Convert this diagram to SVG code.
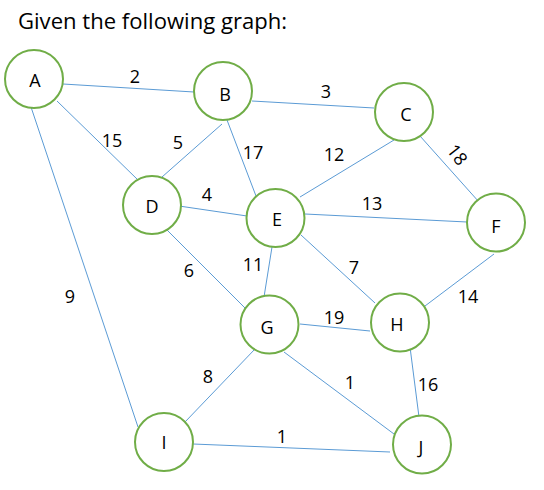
<svg xmlns="http://www.w3.org/2000/svg" width="544" height="490" viewBox="0 0 544 490">
<style>
.edge{stroke:#5B9BD5;stroke-width:1;fill:none}
.node circle{fill:#fff;stroke:#70AD47;stroke-width:2}
text{font-family:"Open Sans","Liberation Sans",sans-serif;fill:#000}
.nl{font-size:18px;text-anchor:middle}
.wl{font-size:18px;text-anchor:middle}
</style>
<rect width="544" height="490" fill="#fff"/>
<text x="18" y="29" font-size="22" textLength="269" lengthAdjust="spacingAndGlyphs">Given the following graph:</text>
<g id="connectors">
<line class="edge" x1="63" y1="84" x2="194" y2="92"/>
<line class="edge" x1="57" y1="101" x2="138" y2="180"/>
<line class="edge" x1="31" y1="107" x2="138" y2="427"/>
<line class="edge" x1="222" y1="124" x2="162" y2="177"/>
<line class="edge" x1="227" y1="120" x2="256" y2="196"/>
<line class="edge" x1="179" y1="206" x2="247" y2="216"/>
<line class="edge" x1="252" y1="101" x2="374" y2="108"/>
<line class="edge" x1="394" y1="140" x2="300" y2="197"/>
<line class="edge" x1="420" y1="136" x2="479" y2="202"/>
<line class="edge" x1="305" y1="214" x2="467" y2="222"/>
<line class="edge" x1="301" y1="235" x2="375" y2="303"/>
<line class="edge" x1="272" y1="247" x2="264" y2="297"/>
<line class="edge" x1="165" y1="228" x2="245" y2="308"/>
<line class="edge" x1="300" y1="324" x2="370" y2="331"/>
<line class="edge" x1="494" y1="254" x2="421" y2="309"/>
<line class="edge" x1="410" y1="347" x2="419" y2="417"/>
<line class="edge" x1="255" y1="349" x2="185" y2="422"/>
<line class="edge" x1="284" y1="352" x2="394" y2="434"/>
<line class="edge" x1="193" y1="444" x2="390" y2="452"/>
</g>
<g id="weights">
<text class="wl" x="135" y="83">2</text>
<text class="wl" x="112" y="147">15</text>
<text class="wl" x="178" y="149">5</text>
<text class="wl" x="253" y="159">17</text>
<text class="wl" x="207" y="201">4</text>
<text class="wl" x="326" y="98">3</text>
<text class="wl" x="334" y="161">12</text>
<text class="wl" x="0" y="0" transform="translate(457 155) rotate(52) translate(0 6)">18</text>
<text class="wl" x="372" y="210">13</text>
<text class="wl" x="253" y="271">11</text>
<text class="wl" x="189" y="277">6</text>
<text class="wl" x="354" y="274">7</text>
<text class="wl" x="334" y="324">19</text>
<text class="wl" x="468" y="303">14</text>
<text class="wl" x="428" y="391">16</text>
<text class="wl" x="208" y="383">8</text>
<text class="wl" x="350" y="389">1</text>
<text class="wl" x="282" y="443">1</text>
<text class="wl" x="70" y="303">9</text>
</g>
<g id="A" class="node"><circle cx="34" cy="79" r="29"/><text class="nl" x="35" y="87">A</text></g>
<g id="B" class="node"><circle cx="223" cy="91" r="29"/><text class="nl" x="225" y="101">B</text></g>
<g id="C" class="node"><circle cx="404" cy="112" r="29"/><text class="nl" x="406" y="121">C</text></g>
<g id="D" class="node"><circle cx="152" cy="205" r="29"/><text class="nl" x="152" y="213">D</text></g>
<g id="E" class="node"><circle cx="275.5" cy="218" r="29"/><text class="nl" x="277" y="226">E</text></g>
<g id="F" class="node"><circle cx="496" cy="222.5" r="29"/><text class="nl" x="496" y="233">F</text></g>
<g id="G" class="node"><circle cx="269.5" cy="324.5" r="29"/><text class="nl" x="267" y="334">G</text></g>
<g id="H" class="node"><circle cx="400" cy="322.5" r="29"/><text class="nl" x="397" y="331">H</text></g>
<g id="I" class="node"><circle cx="164" cy="442" r="29"/><text class="nl" x="164" y="449">I</text></g>
<g id="J" class="node"><circle cx="422" cy="444.5" r="29"/><text class="nl" x="421" y="454">J</text></g>
</svg>
